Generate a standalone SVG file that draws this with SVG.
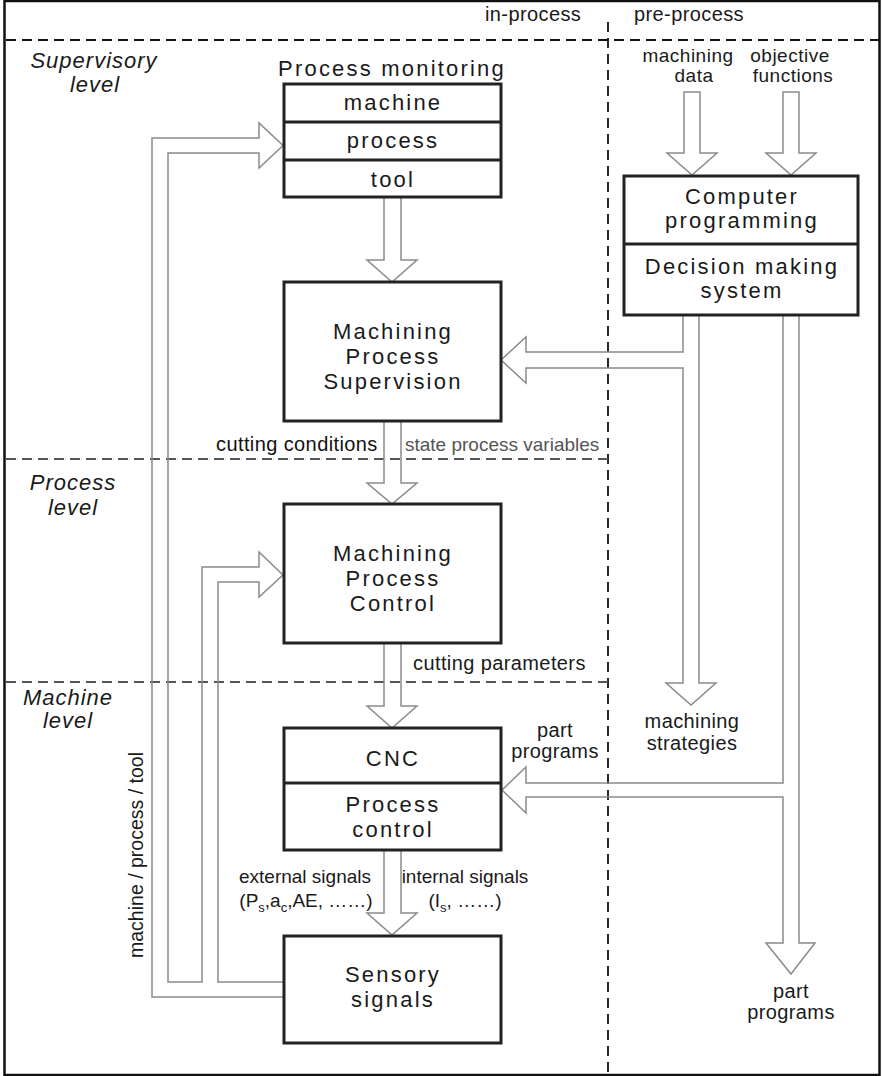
<svg xmlns="http://www.w3.org/2000/svg" width="882" height="1076" viewBox="0 0 882 1076">
<style>
text{font-family:"Liberation Sans",Arial,sans-serif;fill:#1a1a1a}
.bx{fill:#fff;stroke:#222;stroke-width:3}
.dv{stroke:#222;stroke-width:3}
.bt{font-size:22px;letter-spacing:2.2px;text-anchor:middle}
.lt{font-size:20px;letter-spacing:0.4px}
.mid{text-anchor:middle}
.lv{font-size:22px;font-style:italic;letter-spacing:1px;text-anchor:middle}
.ar{fill:none;stroke:#8a8a8a;stroke-width:1.5;stroke-linejoin:miter}
.dash{stroke:#111;stroke-width:1.8;stroke-dasharray:10,6;fill:none}
.dashg{stroke:#555;stroke-width:1.8;stroke-dasharray:10,6;fill:none}
</style>
<rect x="4.5" y="1" width="875" height="1074" fill="#fff" stroke="#111" stroke-width="2.5"/>

<g id="guides">
<line class="dash" x1="6" y1="40" x2="879" y2="40"/>
<line class="dash" x1="608" y1="22" x2="608" y2="1076"/>
<line class="dashg" x1="6" y1="459" x2="608" y2="459"/>
<line class="dashg" x1="6" y1="682" x2="608" y2="682"/>
<text class="lt" x="485" y="21">in-process</text>
<text class="lt" x="634" y="21">pre-process</text>
<text class="lv" x="94" y="68">Supervisory</text>
<text class="lv" x="95" y="92">level</text>
<text class="lv" x="73" y="490">Process</text>
<text class="lv" x="73" y="515">level</text>
<text class="lv" x="68" y="705">Machine</text>
<text class="lv" x="68" y="728">level</text>
</g>

<g id="connectors">
<path class="ar" d="M284,997 H152 V138 H259 V123 L283,145.5 L259,168 V153 H168 V982 H202 V567 H259 V552 L283,575 L259,597 V582 H218 V982 H284"/>
<path class="ar" d="M384,197 V260 H367 L392,282 L417,260 H401 V197"/>
<path class="ar" d="M384,421 V483 H367 L392,504 L417,483 H401 V421"/>
<path class="ar" d="M384,643 V706 H367 L392,728 L417,706 H401 V643"/>
<path class="ar" d="M384,850 V913 H367 L392,935 L417,913 H401 V850"/>
<path class="ar" d="M684,92 V153 H667 L692,175 L717,153 H700 V92 Z"/>
<path class="ar" d="M783,92 V153 H766 L791,175 L816,153 H799 V92 Z"/>
<path class="ar" d="M683,315 V352 H526 V337 L501,360 L526,383 V368 H683 V683 H666 L691,705 L716,683 H699 V315"/>
<path class="ar" d="M783,315 V783 H526 V767 L502,790 L526,813 V797 H783 V943 H766 L791,974 L815,943 H799 V315"/>
<text class="lt" x="216" y="451" style="fill:#111">cutting conditions</text>
<text x="405" y="451" style="font-size:19px;fill:#555">state process variables</text>
<text class="lt" x="413" y="670">cutting parameters</text>
<text class="lt mid" x="555" y="737">part</text>
<text class="lt mid" x="555" y="758">programs</text>
<text class="lt mid" x="692" y="728">machining</text>
<text class="lt mid" x="692" y="750">strategies</text>
<text class="lt mid" x="791" y="998">part</text>
<text class="lt mid" x="791" y="1019">programs</text>
<text class="mid" x="688" y="62" style="font-size:19px;letter-spacing:0.5px">machining</text>
<text class="mid" x="694" y="82" style="font-size:19px;letter-spacing:0.5px">data</text>
<text class="mid" x="790" y="62" style="font-size:19px;letter-spacing:0.5px">objective</text>
<text class="mid" x="793" y="82" style="font-size:19px;letter-spacing:0.5px">functions</text>
<text x="305" y="883" style="font-size:19px;text-anchor:middle">external signals</text>
<text x="306" y="907" style="font-size:19px;text-anchor:middle">(P<tspan font-size="13" dy="5">s</tspan><tspan dy="-5">,a</tspan><tspan font-size="13" dy="5">c</tspan><tspan dy="-5">,AE, ……)</tspan></text>
<text x="465" y="883" style="font-size:19px;text-anchor:middle">internal signals</text>
<text x="465" y="907" style="font-size:19px;text-anchor:middle">(I<tspan font-size="13" dy="5">s</tspan><tspan dy="-5">, ……)</tspan></text>
<text x="143" y="855" transform="rotate(-90 143 855)" style="font-size:19.5px;text-anchor:middle">machine / process / tool</text>
</g>

<g id="process-monitoring">
<text class="bt" x="392" y="76">Process monitoring</text>
<rect class="bx" x="284" y="84" width="217" height="113"/>
<line class="dv" x1="284" y1="122" x2="501" y2="122"/>
<line class="dv" x1="284" y1="160" x2="501" y2="160"/>
<text class="bt" x="393" y="110">machine</text>
<text class="bt" x="393" y="148">process</text>
<text class="bt" x="393" y="187">tool</text>
</g>

<g id="supervision">
<rect class="bx" x="284" y="282" width="217" height="139"/>
<text class="bt" x="393" y="339">Machining</text>
<text class="bt" x="393" y="364">Process</text>
<text class="bt" x="393" y="389">Supervision</text>
</g>

<g id="control">
<rect class="bx" x="284" y="504" width="217" height="139"/>
<text class="bt" x="393" y="561">Machining</text>
<text class="bt" x="393" y="586">Process</text>
<text class="bt" x="393" y="611">Control</text>
</g>

<g id="cnc">
<rect class="bx" x="284" y="728" width="217" height="122"/>
<line class="dv" x1="284" y1="783" x2="501" y2="783"/>
<text class="bt" x="393" y="766">CNC</text>
<text class="bt" x="393" y="812">Process</text>
<text class="bt" x="393" y="837">control</text>
</g>

<g id="sensory">
<rect class="bx" x="284" y="936" width="217" height="107"/>
<text class="bt" x="393" y="982">Sensory</text>
<text class="bt" x="393" y="1007">signals</text>
</g>

<g id="programming">
<rect class="bx" x="624" y="176" width="234" height="139"/>
<line class="dv" x1="624" y1="244" x2="858" y2="244"/>
<text class="bt" x="742" y="204">Computer</text>
<text class="bt" x="742" y="228">programming</text>
<text class="bt" x="742" y="274">Decision making</text>
<text class="bt" x="742" y="298">system</text>
</g>
</svg>
